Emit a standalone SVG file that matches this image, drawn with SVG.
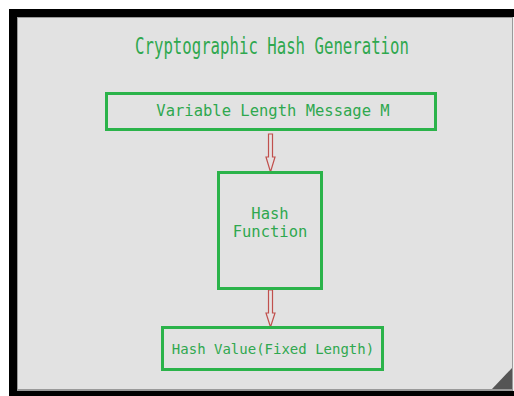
<svg xmlns="http://www.w3.org/2000/svg" width="514" height="396" viewBox="0 0 514 396">
  <defs>
    <style>
      .box { fill: none; stroke: #2bb34a; stroke-width: 3; }
      .lbl { font-family: "DejaVu Sans Mono", "Liberation Mono", monospace; fill: #2fa84f; text-anchor: middle; }
      .arrow { fill: #e6e2e2; stroke: #c0504d; stroke-width: 1.2; stroke-linejoin: miter; }
    </style>
  </defs>
  <rect x="0" y="0" width="514" height="396" fill="#ffffff"/>
  <rect x="9" y="9" width="505" height="387" fill="#000000"/>
  <rect x="17" y="17" width="497" height="374" fill="#9a9a9a"/>
  <rect x="18" y="18" width="496" height="371" fill="#e2e2e2"/>
  <line x1="512.5" y1="17" x2="512.5" y2="391" stroke="#9a9a9a" stroke-width="1"/>
  <rect x="513" y="17" width="1" height="374" fill="#f0f0f0"/>
  <polygon points="492,389 512,368 512,389" fill="#555555"/>

  <text transform="translate(272,54) scale(0.668,1)" x="0" y="0" font-family="'DejaVu Sans Mono', 'Liberation Mono', monospace" font-size="23.5" fill="#2fa84f" text-anchor="middle">Cryptographic Hash Generation</text>

  <g id="connectors">
    <polygon class="arrow" points="268.5,134 272.5,134 272.5,157 275,157 270.5,172 266,157 268.5,157"/>
    <polygon class="arrow" points="268.5,290 272.5,290 272.5,313 275,313 270.5,327 266,313 268.5,313"/>
  </g>

  <g id="message">
    <rect class="box" x="106.5" y="93.5" width="329" height="36"/>
    <text class="lbl" x="273" y="116" font-size="15.5">Variable Length Message M</text>
  </g>

  <g id="hash-function">
    <rect class="box" x="218.5" y="172.5" width="103" height="116"/>
    <text class="lbl" x="270" y="219" font-size="15.5">Hash</text>
    <text class="lbl" x="270" y="237" font-size="15.5">Function</text>
  </g>

  <g id="hash-value">
    <rect class="box" x="162.5" y="327.5" width="220" height="42"/>
    <text class="lbl" x="273" y="354" font-size="14">Hash Value(Fixed Length)</text>
  </g>
</svg>
